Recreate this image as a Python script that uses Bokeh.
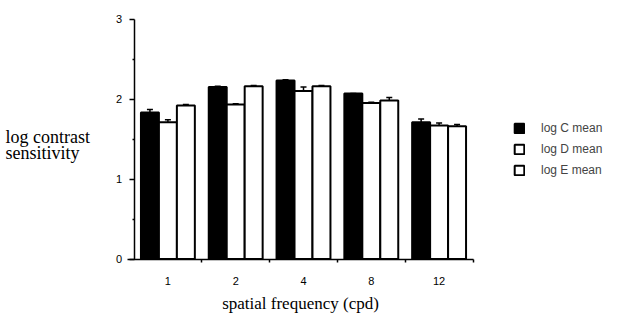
from bokeh.plotting import figure
from bokeh.models import (ColumnDataSource, Range1d, FixedTicker, Whisker, TeeHead,
                          Legend, LegendItem, Label)
from bokeh.embed import file_html
from bokeh.resources import INLINE

# ---- data ----
freq_labels = ["1", "2", "4", "8", "12"]
log_c_mean = [1.83, 2.15, 2.23, 2.07, 1.71]
log_c_err = [0.04, 0.01, 0.01, 0.00, 0.04]
log_d_mean = [1.71, 1.93, 2.10, 1.95, 1.67]
log_d_err = [0.03, 0.01, 0.05, 0.01, 0.03]
log_e_mean = [1.92, 2.16, 2.16, 1.98, 1.66]
log_e_err = [0.01, 0.01, 0.01, 0.04, 0.02]
series_names = ["log C mean", "log D mean", "log E mean"]
y_ticks = [0, 1, 2, 3]

positions = list(range(1, len(freq_labels) + 1))
bar_w = 0.265
offsets = [-bar_w, 0.0, bar_w]
fills = ["black", "white", "white"]

W, H = 610, 315
px_per_x = 67.8          # pixels per category
px_per_y = 80.0          # pixels per log unit
x0_px, y0_px = 133.5, 258.5   # where x=0.5 and y=0 fall, in figure pixels
x_lo = 0.5 - x0_px / px_per_x
x_hi = 0.5 + (W - x0_px) / px_per_x
y_hi = y0_px / px_per_y
y_lo = -(H - y0_px) / px_per_y

p = figure(width=W, height=H, output_backend="svg", toolbar_location=None,
           x_range=Range1d(x_lo, x_hi), y_range=Range1d(y_lo, y_hi),
           min_border=0)
p.outline_line_color = None
p.grid.visible = False
p.background_fill_color = "white"
p.border_fill_color = "white"

renderers = []
for means, errs, off, fc in zip([log_c_mean, log_d_mean, log_e_mean],
                                [log_c_err, log_d_err, log_e_err], offsets, fills):
    xs = [x + off for x in positions]
    src = ColumnDataSource(dict(x=xs, top=means,
                                hi=[m + e for m, e in zip(means, errs)]))
    r = p.vbar(x="x", top="top", bottom=0, width=bar_w, source=src,
               fill_color=fc, line_color="black", line_width=2)
    renderers.append(r)
    w = Whisker(base="x", lower="top", upper="hi", source=src, dimension="height",
                line_color="black", line_width=1.5,
                upper_head=TeeHead(size=6, line_color="black", line_width=1.5),
                lower_head=None)
    p.add_layout(w)

# x axis
p.xaxis.fixed_location = 0
p.xaxis.bounds = (0.4, len(freq_labels) + 0.5)
p.xaxis.ticker = FixedTicker(ticks=positions,
                             minor_ticks=[x + 0.5 for x in positions])
p.xaxis.major_label_overrides = {x: l for x, l in zip(positions, freq_labels)}
p.xaxis.major_tick_out = 0
p.xaxis.major_tick_in = 0
p.xaxis.minor_tick_out = 3
p.xaxis.minor_tick_in = 0
p.xaxis.major_label_standoff = 15
p.xaxis.axis_label = "spatial frequency (cpd)"
p.xaxis.axis_label_text_font = "Liberation Serif"
p.xaxis.axis_label_text_font_style = "normal"
p.xaxis.axis_label_text_font_size = "17px"
p.xaxis.axis_label_standoff = 5

# y axis
p.yaxis.fixed_location = 0.5
p.yaxis.bounds = (0, 3)
p.yaxis.ticker = FixedTicker(ticks=y_ticks, minor_ticks=[0.5, 1.5, 2.5])
p.yaxis.major_tick_out = 5
p.yaxis.major_tick_in = 0
p.yaxis.minor_tick_out = 2
p.yaxis.minor_tick_in = 0
p.yaxis.major_label_standoff = 7

for ax in [p.xaxis, p.yaxis]:
    ax.axis_line_color = "black"
    ax.axis_line_width = 1.5
    ax.major_tick_line_color = "black"
    ax.major_tick_line_width = 1.5
    ax.minor_tick_line_color = "black"
    ax.minor_tick_line_width = 1.5
    ax.major_label_text_font = "Liberation Sans"
    ax.major_label_text_font_size = "11px"
    ax.major_label_text_color = "black"
    ax.axis_label_text_color = "black"

# y title as horizontal two-line text, left of axis (screen units from frame bottom-left)
p.add_layout(Label(x=5, y=H - 136, x_units="screen", y_units="screen",
                   text="log contrast", text_font="Liberation Serif",
                   text_font_size="18px", text_color="black",
                   text_baseline="middle"))
p.add_layout(Label(x=5, y=H - 152, x_units="screen", y_units="screen",
                   text="sensitivity", text_font="Liberation Serif",
                   text_font_size="18px", text_color="black",
                   text_baseline="middle"))

legend = Legend(items=[LegendItem(label=n, renderers=[r])
                       for n, r in zip(series_names, renderers)],
                location=(513, H - 177), padding=0, margin=0, spacing=7,
                glyph_width=12, glyph_height=12, label_height=12,
                label_standoff=16, label_text_font="Liberation Sans",
                label_text_font_size="12px", border_line_color=None,
                background_fill_alpha=0)
p.add_layout(legend, "center")

open("out.html", "w").write(file_html(p, INLINE))
